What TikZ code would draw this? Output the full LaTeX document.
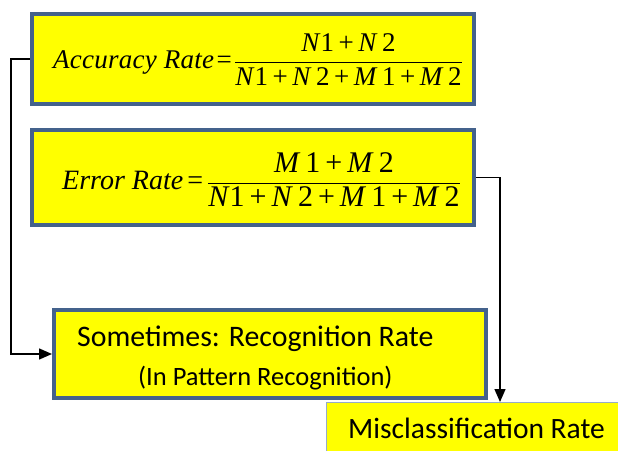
\documentclass[tikz,border=0pt]{standalone}
\usepackage{amsmath}
\usepackage{fontspec}
\setmainfont{Liberation Serif}
\newfontfamily\boxsans{Carlito}
\usetikzlibrary{arrows.meta,calc}
\definecolor{bordblue}{RGB}{68,98,140}
\definecolor{lightbord}{RGB}{150,172,200}
\definecolor{boxyellow}{RGB}{255,255,0}
\begin{document}
\begin{tikzpicture}[x=1pt,y=1pt,
  fbox/.style={draw=bordblue,line width=4pt,fill=boxyellow,inner sep=0pt},
  mbox/.style={draw=lightbord,line width=1pt,fill=boxyellow,inner sep=0pt},
  conn/.style={line width=1.4pt,draw=black,-{Triangle[length=13pt,width=11pt]}},
  ftext/.style={font=\fontsize{27}{32}\selectfont,inner sep=0pt,anchor=east},
  stext/.style={font=\boxsans\fontsize{29.8}{34}\selectfont,anchor=base west,inner sep=0pt}]
\useasboundingbox (0,0) rectangle (618,450);
\clip (0,0) rectangle (618,450);
\fill[white] (0,0) rectangle (618,450);

\node[fbox,minimum width=442pt,minimum height=90pt] (acc) at (253,391) {};
\node[ftext] (acct) at (463,390)
  {\textit{\addfontfeature{LetterSpace=1}Accuracy Rate}\kern2pt=\kern2.5pt$\dfrac{\text{\textit{N}1\,+\,\textit{N}\,2}}{\text{\textit{N}1\,+\,\textit{N}\,2\,+\,\textit{M}\,1\,+\,\textit{M}\,2}}$};
\node[fbox,minimum width=442pt,minimum height=95pt] (err) at (253,272.5) {};
\node[ftext] (errt) at (461,270)
  {\fontsize{28}{32}\selectfont\textit{Error Rate}\kern4pt=\kern4pt\fontsize{30}{34}\selectfont$\dfrac{\text{\textit{M}\,1\,+\,\textit{M}\,2}}{\text{\textit{N}1\,+\,\textit{N}\,2\,+\,\textit{M}\,1\,+\,\textit{M}\,2}}$};
\node[fbox,minimum width=432pt,minimum height=88pt] (rec) at (270,96) {};
\node[stext] (rec1) at (77,104) {Sometimes: Recognition Rate};
\node[stext,font=\boxsans\fontsize{26.5}{30}\selectfont] (rec2) at (138,65) {(In Pattern Recognition)};
\node[mbox,minimum width=313pt,minimum height=67pt] (mis) at (483,14) {};
\node[stext,font=\boxsans\fontsize{29.5}{34}\selectfont] (mis1) at (348,12) {Misclassification Rate};

\coordinate (lx) at (11,0);
\coordinate (rx) at (500,0);
\draw[conn] (acc.west) -- (acc.west -| lx) |- (rec.west);
\draw[conn] (err.east) -| (rx |- mis.north);
\end{tikzpicture}
\end{document}
